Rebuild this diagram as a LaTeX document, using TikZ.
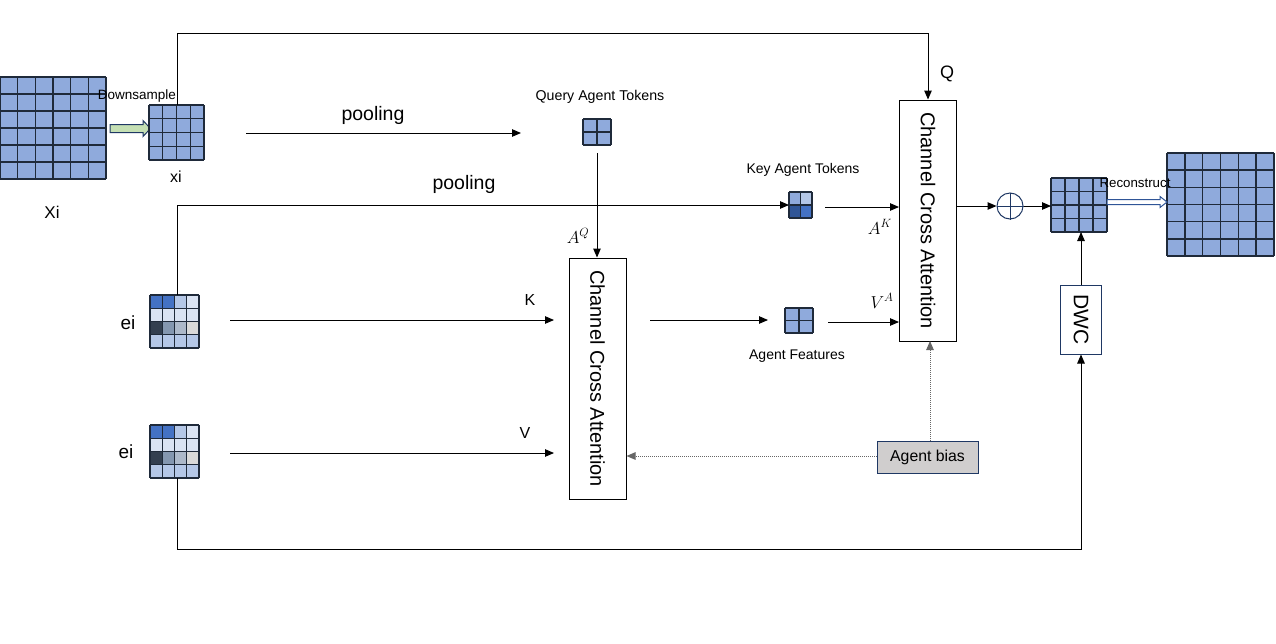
\documentclass[tikz,border=0pt]{standalone}
\usepackage{fontspec}
\setmainfont{Liberation Sans}
\usetikzlibrary{arrows.meta,calc}
\definecolor{gblue}{HTML}{8FAADC}
\definecolor{gline}{HTML}{1F2A3A}
\definecolor{navy}{HTML}{1F3864}
\definecolor{cA}{HTML}{4472C4}
\definecolor{cB}{HTML}{B4C7E7}
\definecolor{cC}{HTML}{DAE3F3}
\definecolor{cD}{HTML}{333F50}
\definecolor{cE}{HTML}{8497B0}
\definecolor{cF}{HTML}{ADB9CA}
\definecolor{cG}{HTML}{D9D9D9}
\definecolor{cH}{HTML}{2F5597}
\definecolor{biasgray}{HTML}{D0CECE}
\definecolor{dgreen}{HTML}{C5E0B4}
\newcommand{\mkgrid}[6]{% name x0 y0 x1 y1 n
  \node[inner sep=0pt, outer sep=0pt, minimum width={(#4-#2)*1pt}, minimum height={(#5-#3)*1pt}, fill=gblue] (#1) at ({(#2+#4)/2},{(#3+#5)/2}) {};
}
\newcommand{\mklines}[5]{% x0 y0 x1 y1 n
  \foreach \k in {0,...,#5} {
    \draw[gridline] ({#1+\k*(#3-#1)/#5},#2) -- ({#1+\k*(#3-#1)/#5},#4);
    \draw[gridline] (#1,{#2+\k*(#4-#2)/#5}) -- (#3,{#2+\k*(#4-#2)/#5});
  }
}
\newcommand{\mkcells}[6]{% x0 y0 x1 y1 n colorlist
  \foreach \c [count=\i from 0] in {#6} {
    \pgfmathtruncatemacro{\rr}{floor(\i/#5)}
    \pgfmathtruncatemacro{\cc}{\i-\rr*#5}
    \fill[\c] ({#1+\cc*(#3-#1)/#5},{#2+\rr*(#4-#2)/#5}) rectangle ++({(#3-#1)/#5},{(#4-#2)/#5});
  }
}
\begin{document}
\begin{tikzpicture}[x=1pt,y=-1pt,
  gridline/.style={draw=gline, line width=1.4pt},
  arr/.style={-{Triangle[length=9pt,width=7.5pt]}, line width=1pt, black},
  dotarr/.style={-{Triangle[length=9pt,width=7.5pt]}, densely dotted, line width=1pt, black!60},
  ccabox/.style={draw=black, line width=1pt, fill=white, inner sep=0pt, minimum width=57pt, minimum height=241pt},
  lbl/.style={inner sep=0pt, font=\fontsize{#1}{#1}\selectfont},
  lbl/.default=15,
  math/.style={inner sep=0pt, font=\fontsize{18}{18}\selectfont}
]
\useasboundingbox (0,0) rectangle (1276,643);

% ---- left big grid Xi
\mkgrid{Xi}{0}{77}{106}{179}{6}
\mklines{0}{77}{106}{179}{6}
\node[lbl=17] (XiL) at (52,212) {Xi};

% downsample arrow
\draw[fill=dgreen, draw=navy, line width=1pt] (110,124.5) -- (143,124.5) -- (143,120.5) -- (150.5,128.5) -- (143,136.5) -- (143,132.5) -- (110,132.5) -- cycle;

% ---- xi grid
\mkgrid{xi}{149}{105}{204}{160}{4}
\mklines{149}{105}{204}{160}{4}
\node[lbl=16] (xiL) at (176,177) {xi};
\node[lbl=13.5] (dsL) at (137,96) {Downsample};

% ---- query agent tokens
\mkgrid{qat}{583}{119}{611}{145}{2}
\mklines{583}{119}{611}{145}{2}
\node[lbl=14.2] (qatL) at (600,97) {Query Agent Tokens};

% pooling 1
\coordinate (p1s) at (246,133);
\coordinate (p1e) at (521,133);
\draw[arr] (p1s) -- (p1e);
\node[lbl=19.5] (pool1) at (373,115) {pooling};

% ---- CCA boxes
\node[ccabox] (cca1) at (597.5,378.5) {};
\node[lbl=20, rotate=-90] (cca1t) at (cca1.center) {Channel Cross Attention};
\node[ccabox] (cca2) at (928,220.5) {};
\node[lbl=20, rotate=-90] (cca2t) at (cca2.center) {Channel Cross Attention};

% Q path
\draw[arr] (177,105) -- (177,33) -| (cca2.north);
\node[lbl=18] (QL) at (947,74) {Q};

% query -> cca1
\draw[arr] ($(qat.south)+(0,8)$) -- (qat.south |- cca1.north);
\node[math] (AQ) at (578,236) {$A^{Q}$};

% ---- key agent tokens
\mkgrid{kat}{789}{192}{812}{218}{2}
\mkcells{789}{192}{812}{218}{2}{gblue,cB,cH,cA}
\mklines{789}{192}{812}{218}{2}
\node[lbl=14] (katL) at (803,170) {Key Agent Tokens};

% ---- ei grids
\mkgrid{ei1}{150}{295}{199}{348}{4}
\mkcells{150}{295}{199}{348}{4}{cA,cA,cB,cC,cC,cC,cC,cC,cD,cE,cF,cG,cB,cB,cB,cB}
\mklines{150}{295}{199}{348}{4}
\node[lbl=19] (ei1L) at (128,323) {ei};
\mkgrid{ei2}{150}{425}{199}{478}{4}
\mkcells{150}{425}{199}{478}{4}{cA,cA,cB,cC,cC,cC,cC,cC,cD,cE,cF,cG,cB,cB,cB,cB}
\mklines{150}{425}{199}{478}{4}
\node[lbl=19] (ei2L) at (126,452) {ei};

% pooling 2 (ei1 -> key tokens)
\draw[arr] (177,295) |- (kat.west);
\node[lbl=19.5] (pool2) at (464,184) {pooling};

% key tokens -> cca2
\draw[arr] (825,207) -- (cca2.west |- 0,207);
\node[math] (AK) at (880,227) {$A^{K}$};

% K and V
\coordinate (ks) at (230,320);
\coordinate (ke) at (554,320);
\draw[arr] (ks) -- (ke);
\node[lbl=16] (KL) at (530,300) {K};
\coordinate (vs) at (230,453);
\coordinate (ve) at (554,453);
\draw[arr] (vs) -- (ve);
\node[lbl=16] (VL) at (525,433) {V};

% agent features
\mkgrid{af}{785}{308}{813}{333}{2}
\mklines{785}{308}{813}{333}{2}
\node[lbl=14] (afL) at (797,356) {Agent Features};
\coordinate (as) at (650,320);
\coordinate (ae) at (768,320);
\draw[arr] (as) -- (ae);
\draw[arr] (828,322) -- (cca2.west |- 0,322);
\node[math] (VA) at (882,301) {$V^{A}$};

% agent bias
\node[draw=navy, line width=1pt, fill=biasgray, minimum width=101pt, minimum height=32pt, inner sep=0pt, font=\fontsize{15.8}{15.8}\selectfont] (bias) at (927.5,457) {Agent bias};
\draw[dotarr] (bias.west |- 0,456) -- (cca1.east |- 0,456);
\draw[dotarr] (930,441) -- (930,341);

% plus
\node[circle, draw=navy, line width=1pt, minimum size=26pt, inner sep=0pt] (plus) at (1010,206) {};
\draw[navy, line width=1pt] (plus.north) -- (plus.south) (plus.west) -- (plus.east);
\draw[arr] (cca2.east |- 0,206) -- (plus.west);

% mid grid
\mkgrid{mg}{1051}{178}{1107}{232}{4}
\mklines{1051}{178}{1107}{232}{4}
\draw[arr] (plus.east) -- (mg.west |- plus.east);

% right big grid
\mkgrid{Xo}{1167}{153}{1274}{256}{6}
\mklines{1167}{153}{1274}{256}{6}

% reconstruct arrow
\draw[fill=white, draw=cH, line width=1pt] (1107,199.5) -- (1160,199.5) -- (1160,196.5) -- (1167,202) -- (1160,207.5) -- (1160,204.5) -- (1107,204.5) -- cycle;
\node[lbl=13.3] (recL) at (1135,183) {Reconstruct};

% DWC
\node[draw=navy, line width=1pt, fill=white, minimum width=41pt, minimum height=69pt, inner sep=0pt] (dwc) at (1081,319.5) {};
\node[lbl=21, rotate=-90] (dwct) at (dwc.center) {DWC};
\draw[arr] (dwc.north) -- (dwc.north |- mg.south);
\draw[arr] (177,478) -- (177,549) -| (dwc.south);
\end{tikzpicture}
\end{document}
